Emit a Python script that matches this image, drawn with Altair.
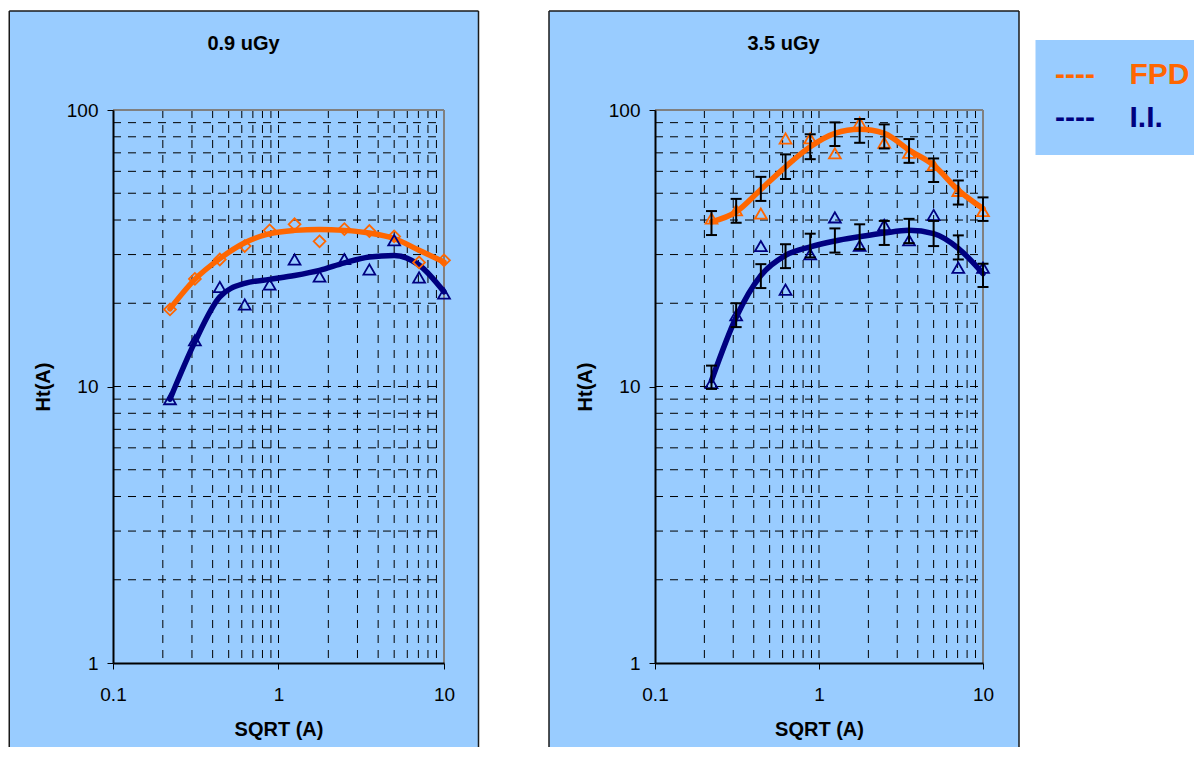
import altair as alt
import pandas as pd

# ---------------- data ----------------
x_vals = [0.221, 0.3125, 0.442, 0.625, 0.884, 1.25, 1.77, 2.5, 3.54, 5.0, 7.07, 10.0]

# panel 1 : 0.9 uGy
fpd_pts_09 = [19.0, 24.5, 28.8, 32.2, 36.7, 38.6, 33.5, 37.1, 36.5, 34.9, 28.1, 28.6]
ii_pts_09 = [9.0, 14.7, 22.9, 19.8, 23.4, 28.8, 25.0, 28.9, 26.5, 33.8, 24.8, 21.7]
fpd_fit_09 = [19.1, 24.4, 29.0, 33.1, 35.7, 36.7, 37.0, 36.7, 35.9, 34.3, 31.1, 28.2]
ii_fit_09 = [9.0, 14.5, 21.1, 23.6, 24.4, 25.2, 26.3, 28.0, 29.4, 29.8, 27.5, 22.0]

# panel 2 : 3.5 uGy
fpd_pts_35 = [40.5, 43.4, 42.2, 78.9, 79.0, 69.7, 89.9, 76.2, 70.0, 63.2, 51.0, 43.1]
ii_pts_35 = [10.3, 18.1, 32.2, 22.4, 30.1, 40.9, 32.3, 38.4, 33.8, 41.7, 26.9, 26.9]
fpd_fit_35 = [39.4, 42.8, 51.6, 62.3, 73.6, 82.3, 85.1, 82.3, 71.6, 63.2, 51.3, 44.0]
ii_fit_35 = [10.5, 17.8, 25.2, 29.8, 32.0, 33.6, 34.8, 35.9, 36.7, 35.7, 31.6, 25.6]
fpd_lo_35 = [35.3, 39.1, 46.9, 56.3, 66.4, 74.1, 76.1, 72.6, 64.4, 54.9, 45.5, 39.7]
fpd_hi_35 = [43.1, 47.7, 57.3, 69.1, 81.7, 90.2, 92.8, 88.7, 78.5, 66.8, 55.6, 48.3]
ii_lo_35 = [9.8, 16.4, 22.7, 26.8, 29.3, 30.5, 31.4, 32.5, 33.0, 32.2, 28.8, 22.9]
ii_hi_35 = [11.9, 20.0, 27.7, 32.7, 35.7, 37.3, 38.6, 39.7, 40.4, 39.7, 35.2, 27.8]

grid_x = [0.2, 0.3, 0.4, 0.5, 0.6, 0.7, 0.8, 0.9, 1, 2, 3, 4, 5, 6, 7, 8, 9]
grid_y = [2, 3, 4, 5, 6, 7, 8, 9, 10, 20, 30, 40, 50, 60, 70, 80, 90]
x_ticks = [0.1, 1, 10]
y_ticks = [1, 10, 100]
panel_titles = ["0.9 uGy", "3.5 uGy"]
legend_labels = ["FPD", "I.I."]

# ---------------- styles ----------------
BG = "#99CCFF"
ORANGE = "#FF6600"
NAVY = "#000080"
FONT = "Liberation Sans"
PH = 553
BOX_TOP = -99
BOX_BOTTOM = 637

xs = alt.Scale(type="log", domain=[0.1, 10], nice=False)
ys = alt.Scale(type="log", domain=[1, 100], nice=False)

ax = alt.Axis(values=x_ticks, format="~g", title="SQRT (A)", grid=False,
              tickSize=6, tickColor="black", tickWidth=1,
              domainColor="black", domainWidth=2,
              labelFont=FONT, labelFontSize=19, labelColor="black",
              labelPadding=16, labelFlush=False, labelOverlap=False,
              titleFont=FONT, titleFontSize=20, titleFontWeight="bold",
              titleColor="black", titleY=66, titleBaseline="middle", zindex=1)
ay = alt.Axis(values=y_ticks, format="~g", title="Ht(A)", grid=False,
              tickSize=6, tickColor="black", tickWidth=1,
              domainColor="black", domainWidth=2,
              labelFont=FONT, labelFontSize=19, labelColor="black",
              labelPadding=9, labelFlush=False, labelOverlap=False,
              titleFont=FONT, titleFontSize=20, titleFontWeight="bold",
              titleColor="black", titleX=-70, titleBaseline="middle", zindex=1)

one = pd.DataFrame({"k": [0]})


def panel(title, W, df, fpd_shape, box_left, box_right, title_x, with_err, with_legend):
    base1 = alt.Chart(one)
    layers = []
    layers.append(base1.mark_rect(fill=BG).encode(
        x=alt.value(box_left), x2=alt.value(box_right),
        y=alt.value(BOX_TOP), y2=alt.value(BOX_BOTTOM)))
    edge = dict(color="#1a1a1a", strokeWidth=1.5)
    layers.append(base1.mark_rule(**edge).encode(
        x=alt.value(box_left), x2=alt.value(box_right), y=alt.value(BOX_TOP)))
    layers.append(base1.mark_rule(**edge).encode(
        x=alt.value(box_left), y=alt.value(BOX_TOP), y2=alt.value(BOX_BOTTOM)))
    layers.append(base1.mark_rule(**edge).encode(
        x=alt.value(box_right), y=alt.value(BOX_TOP), y2=alt.value(BOX_BOTTOM)))

    # panel title
    layers.append(base1.mark_text(text=title, font=FONT, fontSize=20, fontWeight="bold",
                                  color="black", align="center", baseline="alphabetic").encode(
        x=alt.value(title_x), y=alt.value(-60)))

    grid_style = dict(color="black", strokeWidth=1, strokeDash=[8, 7])
    layers.append(alt.Chart(pd.DataFrame({"gx": grid_x})).mark_rule(**grid_style).encode(
        x=alt.X("gx:Q", scale=xs, axis=ax), y=alt.value(0), y2=alt.value(PH)))
    layers.append(alt.Chart(pd.DataFrame({"gy": grid_y})).mark_rule(**grid_style).encode(
        y=alt.Y("gy:Q", scale=ys, axis=ay), x=alt.value(0), x2=alt.value(W)))

    frame = dict(color="#808080", strokeWidth=2)
    layers.append(base1.mark_rule(**frame).encode(
        x=alt.value(0), x2=alt.value(W), y=alt.value(0)))
    layers.append(base1.mark_rule(**frame).encode(
        x=alt.value(W), y=alt.value(0), y2=alt.value(PH)))

    base = alt.Chart(df)
    X = alt.X("x:Q", scale=xs, axis=ax)
    layers.append(base.mark_line(color=ORANGE, strokeWidth=5.5, interpolate="monotone",
                                 strokeCap="round").encode(
        x=X, y=alt.Y("fpd_fit:Q", scale=ys, axis=ay)))
    layers.append(base.mark_line(color=NAVY, strokeWidth=5.5, interpolate="monotone",
                                 strokeCap="round").encode(
        x=X, y=alt.Y("ii_fit:Q", scale=ys, axis=ay)))
    layers.append(base.mark_point(shape=fpd_shape, filled=False, size=140, strokeWidth=1.8,
                                  color=ORANGE, opacity=1).encode(
        x=X, y=alt.Y("fpd:Q", scale=ys, axis=ay)))
    layers.append(base.mark_point(shape="triangle-up", filled=False, size=140, strokeWidth=1.8,
                                  color=NAVY, opacity=1).encode(
        x=X, y=alt.Y("ii:Q", scale=ys, axis=ay)))

    if with_err:
        for lo, hi in (("fpd_lo", "fpd_hi"), ("ii_lo", "ii_hi")):
            layers.append(base.mark_rule(color="black", strokeWidth=2).encode(
                x=X, y=alt.Y(f"{lo}:Q", scale=ys, axis=ay), y2=f"{hi}:Q"))
            for f in (lo, hi):
                layers.append(base.mark_tick(color="black", orient="horizontal", size=11,
                                             thickness=2, opacity=1).encode(
                    x=X, y=alt.Y(f"{f}:Q", scale=ys, axis=ay)))

    if with_legend:
        layers.append(base1.mark_rect(fill=BG).encode(
            x=alt.value(380.5), x2=alt.value(539), y=alt.value(-70), y2=alt.value(45)))
        for i, (lab, col) in enumerate(zip(legend_labels, [ORANGE, NAVY])):
            yb = -26.2 + i * 43.4
            tstyle = dict(font=FONT, fontSize=30, fontWeight="bold", color=col,
                          align="left", baseline="alphabetic")
            layers.append(base1.mark_text(text="----", **tstyle).encode(
                x=alt.value(400), y=alt.value(yb)))
            layers.append(base1.mark_text(text=lab, **tstyle).encode(
                x=alt.value(474.5), y=alt.value(yb)))

    return alt.layer(*layers).properties(width=W, height=PH)


df09 = pd.DataFrame({"x": x_vals, "fpd": fpd_pts_09, "ii": ii_pts_09,
                     "fpd_fit": fpd_fit_09, "ii_fit": ii_fit_09})
df35 = pd.DataFrame({"x": x_vals, "fpd": fpd_pts_35, "ii": ii_pts_35,
                     "fpd_fit": fpd_fit_35, "ii_fit": ii_fit_35,
                     "fpd_lo": fpd_lo_35, "fpd_hi": fpd_hi_35,
                     "ii_lo": ii_lo_35, "ii_hi": ii_hi_35})

left = panel(panel_titles[0], 331, df09, "diamond", -103.75, 365.5, 130.5, False, False)
right = panel(panel_titles[1], 328, df35, "triangle-up", -106, 364, 128.5, True, True)

chart = alt.hconcat(left, right, spacing=68).properties(
    padding={"left": 0, "top": 2, "right": 0, "bottom": 0},
    background="white",
).configure_view(stroke=None)

chart.save("out.html", embed_options={"renderer": "svg", "actions": False})
